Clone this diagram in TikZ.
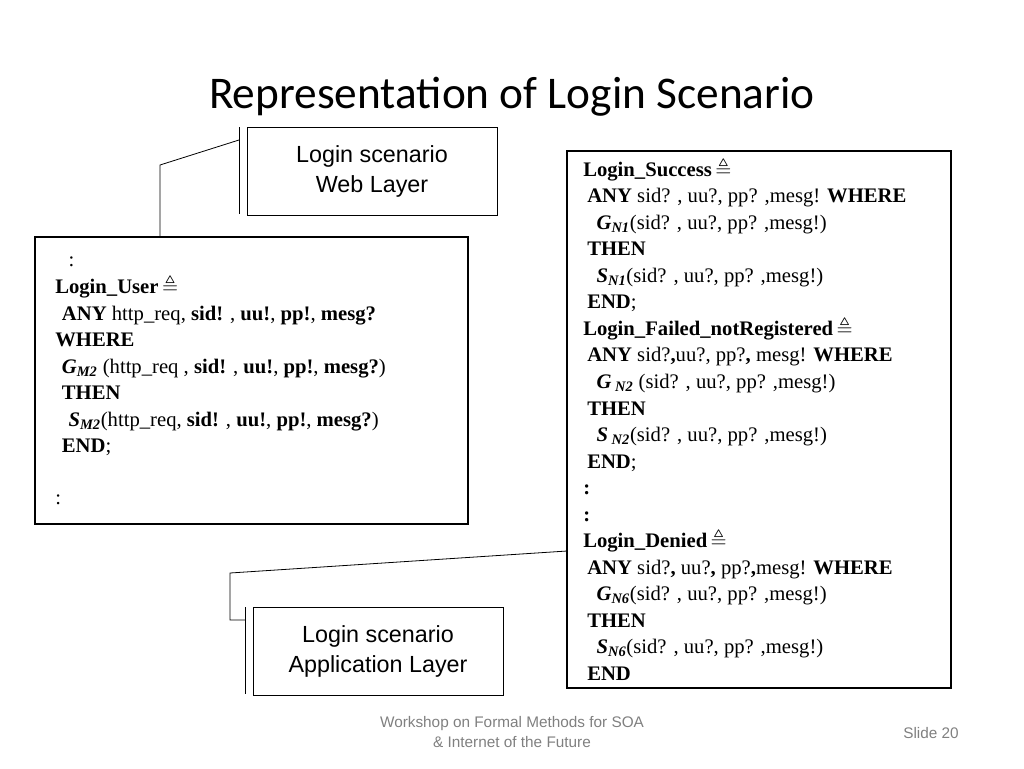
\documentclass[tikz,border=0pt]{standalone}
\usepackage{amssymb}
\usepackage{fontspec}
\setmainfont{Liberation Serif}
\newfontfamily\titlefont{Carlito}
\newfontfamily\armfont{Liberation Sans}
\newcommand{\gs}[2]{\textbf{\textit{#1}}\textsubscript{\textbf{\textit{#2}}}}
\newcommand{\defeq}{\,$\triangleq$}

\begin{document}
\begin{tikzpicture}[x=0.75pt,y=-0.75pt,
  codebox/.style={draw,line width=1.5pt},
  code/.style={anchor=north west,align=left,inner sep=0pt,font=\fontsize{15.5}{19.9}\selectfont},
  labelbox/.style={draw,line width=0.5pt,align=center,font=\armfont\fontsize{17.5}{22.5}\selectfont},
  callout/.style={line width=0.6pt}]
\useasboundingbox (0,0) rectangle (1024,768);

% title
\node[font=\titlefont\fontsize{34}{40}\selectfont] (title) at (512,97) {Representation of Login Scenario};

% web layer
\draw[codebox] (35,237) rectangle (468,524);
\node[code] (web) at (55,257) {%
\hspace*{10pt}:\\
\textbf{Login\_User}\defeq\\
\hspace*{5pt}\textbf{ANY} http\_req, \textbf{sid!} , \textbf{uu!}, \textbf{pp!}, \textbf{mesg?}\\
\textbf{WHERE}\\
\hspace*{5pt}\gs{G}{M2} (http\_req , \textbf{sid!} , \textbf{uu!}, \textbf{pp!}, \textbf{mesg?})\\
\hspace*{5pt}\textbf{THEN}\\
\hspace*{10pt}\gs{S}{M2}(http\_req, \textbf{sid!} , \textbf{uu!}, \textbf{pp!}, \textbf{mesg?})\\
\hspace*{5pt}\textbf{END};\\[19pt]
:};

% application layer
\draw[codebox] (567,151) rectangle (951,688);
\node[code] (app) at (583,157) {%
\textbf{Login\_Success}\defeq\\
\hspace*{3pt}\textbf{ANY} sid? , uu?, pp? ,mesg! \textbf{WHERE}\\
\hspace*{10pt}\gs{G}{N1}(sid? , uu?, pp? ,mesg!)\\
\hspace*{3pt}\textbf{THEN}\\
\hspace*{10pt}\gs{S}{N1}(sid? , uu?, pp? ,mesg!)\\
\hspace*{3pt}\textbf{END};\\
\textbf{Login\_Failed\_notRegistered}\defeq\\
\hspace*{3pt}\textbf{ANY} sid?\textbf{,}uu?, pp?\textbf{,} mesg! \textbf{WHERE}\\
\hspace*{10pt}\gs{G}{ N2} (sid? , uu?, pp? ,mesg!)\\
\hspace*{3pt}\textbf{THEN}\\
\hspace*{10pt}\gs{S}{ N2}(sid? , uu?, pp? ,mesg!)\\
\hspace*{3pt}\textbf{END};\\
\textbf{:}\\
\textbf{:}\\
\textbf{Login\_Denied}\defeq\\
\hspace*{3pt}\textbf{ANY} sid?\textbf{,} uu?\textbf{,} pp?\textbf{,}mesg! \textbf{WHERE}\\
\hspace*{10pt}\gs{G}{N6}(sid? , uu?, pp? ,mesg!)\\
\hspace*{3pt}\textbf{THEN}\\
\hspace*{10pt}\gs{S}{N6}(sid? , uu?, pp? ,mesg!)\\
\hspace*{3pt}\textbf{END}};

% callout labels
\node[labelbox,minimum width=250*0.75pt,minimum height=88*0.75pt] (weblbl) at (372,171) {Login scenario\\Web Layer};
\node[labelbox,minimum width=250*0.75pt,minimum height=88*0.75pt] (applbl) at (378,651) {Login scenario\\Application Layer};
\coordinate (wa) at (239,140);
\coordinate (aa) at (245,620);
\draw[callout] (239,127) -- (239,214);
\draw[callout] (wa) -- (160,165) -- (160,237);
\draw[callout] (245,607) -- (245,694);
\draw[callout] (aa) -- (230,620) -- (230,573) -- (567,551);

% footer
\node[font=\armfont\fontsize{11.5}{15}\selectfont,text=gray,align=center] (foot) at (512,732) {Workshop on Formal Methods for SOA\\\& Internet of the Future};
\node[font=\armfont\fontsize{11.5}{15}\selectfont,text=gray] (slide) at (931,733) {Slide 20};
\end{tikzpicture}
\end{document}
